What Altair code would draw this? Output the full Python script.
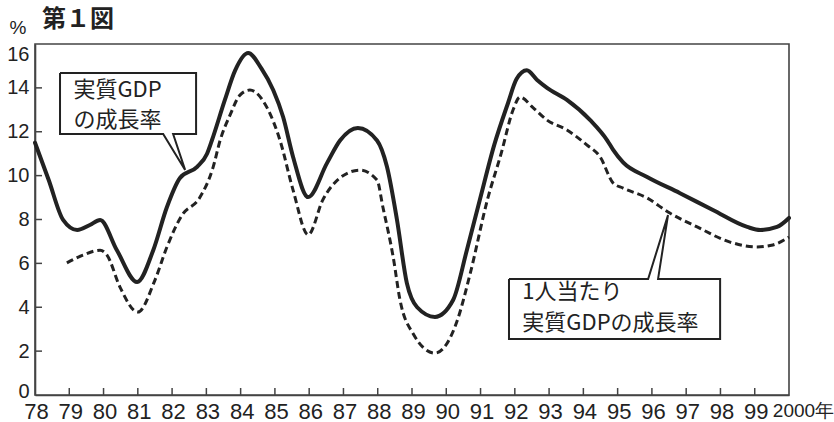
import altair as alt
import pandas as pd

# 実質GDPの成長率 (solid)
gdp_year = [78.0, 78.4, 78.82, 79.23, 79.6, 79.9, 80.39, 80.98, 81.45, 81.85, 82.23, 82.73,
            83.02, 83.16, 83.54, 83.84, 84.22, 84.6, 84.95, 85.24, 85.53, 85.97, 86.52, 86.9,
            87.42, 87.98, 88.27, 88.56, 88.85, 89.15, 89.67, 90.2, 90.6, 90.98, 91.4, 91.8,
            92.05, 92.35, 92.65, 92.94, 93.52, 94.2, 94.7, 94.87, 95.16, 95.86, 96.82, 97.78,
            98.78, 99.16, 99.65, 100.0]
gdp_val = [11.5, 9.8, 7.98, 7.52, 7.75, 7.98, 6.6, 5.15, 6.6, 8.57, 9.89, 10.4,
           11.0, 11.6, 13.45, 14.8, 15.59, 14.9, 13.9, 12.67, 10.85, 9.02, 10.57, 11.6,
           12.17, 11.6, 10.4, 8.0, 5.1, 4.0, 3.56, 4.33, 6.6, 8.9, 11.4, 13.3,
           14.4, 14.8, 14.36, 14.0, 13.45, 12.53, 11.6, 11.17, 10.6, 9.94, 9.2, 8.43,
           7.66, 7.52, 7.66, 8.07]

# 1人当たり実質GDPの成長率 (dashed)
pc_year = [78.93, 79.4, 79.9, 80.1, 80.48, 81.0, 81.5, 81.85, 82.29, 82.8, 83.2, 83.4,
           83.69, 83.98, 84.27, 84.77, 85.15, 85.53, 85.97, 86.4, 86.9, 87.48, 87.98, 88.15,
           88.45, 88.65, 89.03, 89.67, 90.3, 90.7, 91.2, 91.6, 91.95, 92.15, 92.53, 92.94,
           93.52, 94.1, 94.49, 94.87, 95.16, 95.86, 96.47, 97.32, 98.28, 99.07, 99.53, 100.0]
pc_val = [6.02, 6.38, 6.6, 6.38, 4.92, 3.78, 5.24, 6.75, 8.2, 8.98, 10.4, 11.6,
          12.76, 13.67, 13.9, 13.1, 11.6, 9.34, 7.3, 8.9, 9.9, 10.25, 9.8, 8.57,
          6.3, 4.33, 2.8, 1.91, 3.3, 5.55, 8.9, 11.0, 13.0, 13.58, 13.1, 12.53,
          12.08, 11.4, 10.85, 9.66, 9.43, 8.98, 8.34, 7.66, 6.97, 6.75, 6.84, 7.2]

x_ticks = list(range(78, 101))
y_ticks = list(range(0, 17, 2))

# annotation callouts (data units)
box1_x = [78.73, 82.70, 82.70, 82.03, 82.38, 81.74, 78.73, 78.73]
box1_y = [14.68, 14.68, 11.90, 11.90, 10.26, 11.90, 11.90, 14.68]
box1_text = ["実質GDP", "の成長率"]
box1_tx = [79.12, 79.12]
box1_ty = [13.90, 12.55]

box2_x = [91.83, 95.89, 96.47, 96.18, 97.99, 97.99, 91.83, 91.83]
box2_y = [5.29, 5.29, 8.20, 5.29, 5.29, 2.55, 2.55, 5.29]
box2_text = ["1人当たり", "実質GDPの成長率"]
box2_tx = [92.22, 92.22]
box2_ty = [4.70, 3.30]

FONT_NUM = "Liberation Sans"
FONT_JP = "Noto Sans CJK JP"
INK = "#222222"
AXC = "#444444"

xs = alt.Scale(domain=[78, 100], nice=False, zero=False)
ys = alt.Scale(domain=[0, 16], nice=False, zero=False)

x_axis = alt.Axis(
    values=x_ticks, title=None, ticks=False, labelPadding=6, grid=False,
    labelFont=FONT_NUM, labelColor=INK,
    labelFontSize={"condition": {"test": "datum.value == 100", "value": 19}, "value": 22},
    labelExpr="datum.value == 100 ? '2000年' : format(datum.value, 'd')",
    labelOffset={"condition": {"test": "datum.value == 100", "value": 14}, "value": 1},
    labelFlush=False, labelOverlap=False,
    domainColor=AXC, domainWidth=1.6,
)
y_axis = alt.Axis(
    values=y_ticks, title=None, ticks=False, labelPadding=6, grid=False,
    labelFont=FONT_NUM, labelFontSize=20, labelColor=INK,
    labelBaseline={"condition": {"test": "datum.value == 16", "value": "top"}, "value": "middle"},
    labelOffset={"condition": {"test": "datum.value == 0", "value": -4}, "value": 0},
    labelFlush=False, labelOverlap=False,
    domainColor=AXC, domainWidth=1.6,
)


def X(field):
    return alt.X(field, scale=xs, axis=x_axis)


def Y(field):
    return alt.Y(field, scale=ys, axis=y_axis)


gdp = pd.DataFrame({"year": gdp_year, "value": gdp_val})
pc = pd.DataFrame({"year": pc_year, "value": pc_val})

solid = alt.Chart(gdp).mark_line(
    color=INK, strokeWidth=4, interpolate="monotone", strokeCap="round", strokeJoin="round"
).encode(x=X("year:Q"), y=Y("value:Q"))

dashed = alt.Chart(pc).mark_line(
    color=INK, strokeWidth=3, strokeDash=[7, 4], interpolate="monotone"
).encode(x=X("year:Q"), y=Y("value:Q"))

xt = pd.DataFrame({"t": x_ticks[1:-1]})
x_tick_marks = alt.Chart(xt).mark_rule(color=AXC, strokeWidth=1.5).encode(
    x=X("t:Q"), y=alt.value(351), y2=alt.value(344),
)
yt = pd.DataFrame({"t": y_ticks[1:-1]})
y_tick_marks = alt.Chart(yt).mark_rule(color=AXC, strokeWidth=1.5).encode(
    y=Y("t:Q"), x=alt.value(0), x2=alt.value(7),
)


def callout(bx, by, texts, tx, ty, top_idx, bottom_idx):
    fill = alt.Chart(pd.DataFrame({
        "x1": [min(bx)], "x2": [max(bx)], "y1": [by[bottom_idx]], "y2": [by[top_idx]],
    })).mark_rect(color="white").encode(
        x=X("x1:Q"), x2="x2:Q", y=Y("y1:Q"), y2="y2:Q",
    )
    box = pd.DataFrame({"x": bx, "y": by, "o": list(range(len(bx)))})
    outline = alt.Chart(box).mark_line(
        color=INK, strokeWidth=2, strokeJoin="miter"
    ).encode(x=X("x:Q"), y=Y("y:Q"), order="o:Q")
    lab = alt.Chart(pd.DataFrame({"x": tx, "y": ty, "t": texts})).mark_text(
        font=FONT_JP, fontSize=22, align="left", baseline="middle", color=INK
    ).encode(x=X("x:Q"), y=Y("y:Q"), text="t:N")
    return fill, outline, lab


fill1, out1, lab1 = callout(box1_x, box1_y, box1_text, box1_tx, box1_ty, 0, 2)
fill2, out2, lab2 = callout(box2_x, box2_y, box2_text, box2_tx, box2_ty, 0, 5)

title = alt.Chart(pd.DataFrame({"t": ["第１図"]})).mark_text(
    font=FONT_JP, fontSize=24, fontWeight="bold", align="left", baseline="middle", color=INK
).encode(x=alt.value(7), y=alt.value(-24), text="t:N")
pct = alt.Chart(pd.DataFrame({"t": ["%"]})).mark_text(
    font=FONT_NUM, fontSize=19, align="center", baseline="middle", color=INK
).encode(x=alt.value(-17), y=alt.value(-16), text="t:N")

chart = alt.layer(
    solid, dashed, x_tick_marks, y_tick_marks, fill1, out1, lab1, fill2, out2, lab2, title, pct
).properties(
    width=754, height=351,
    padding={"left": 35, "top": 44, "right": 45, "bottom": 27},
    autosize=alt.AutoSizeParams(type="none"),
    background="white",
).configure_view(stroke=AXC, strokeWidth=1.6)

chart.save("out.html", embed_options={"renderer": "svg", "actions": False})
